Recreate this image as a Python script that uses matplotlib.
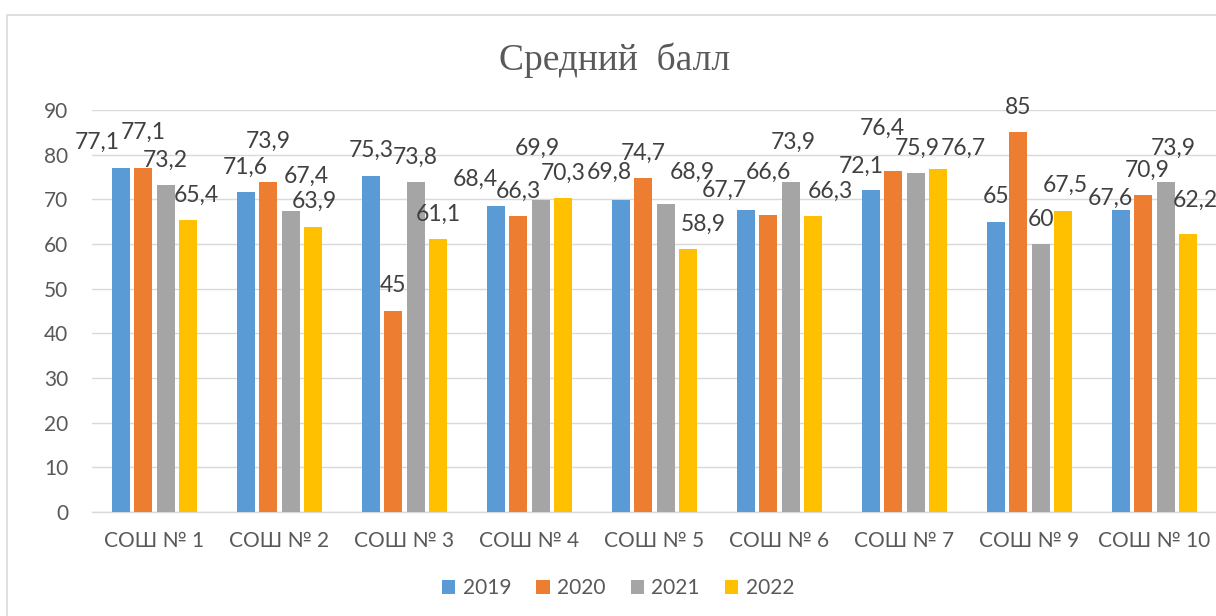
import matplotlib
matplotlib.use("Agg")
import matplotlib.pyplot as plt
import numpy as np
from matplotlib.patches import Rectangle

# ---- data ----
schools = ["СОШ № 1", "СОШ № 2", "СОШ № 3", "СОШ № 4", "СОШ № 5",
           "СОШ № 6", "СОШ № 7", "СОШ № 9", "СОШ № 10"]
years = ["2019", "2020", "2021", "2022"]
v2019 = [77.1, 71.6, 75.3, 68.4, 69.8, 67.7, 72.1, 65, 67.6]
v2020 = [77.1, 73.9, 45, 66.3, 74.7, 66.6, 76.4, 85, 70.9]
v2021 = [73.2, 67.4, 73.8, 69.9, 68.9, 73.9, 75.9, 60, 73.9]
v2022 = [65.4, 63.9, 61.1, 70.3, 58.9, 66.3, 76.7, 67.5, 62.2]
yticks = [0, 10, 20, 30, 40, 50, 60, 70, 80, 90]
title = "Средний  балл"

# label placement shifts (pixels: dx, extra dy) per series, per school
label_shift = [
    [(-24, 0), (0, 0), (0, 0), (-20, 2), (-11, 3), (-21, -6), (-9, -1), (0, 0), (-10, -13)],
    [(0, 10), (0, 16), (0, 0), (0, 0), (0, 0), (0, 17), (-11, 17), (0, 0), (4, 0)],
    [(0, 0), (16, 10), (0, 0), (-3, 26), (27, 7), (2, 15), (1, 0), (0, 0), (7, 9)],
    [(8, 0), (1, 0), (0, 0), (0, 0), (15, 0), (17, 0), (25, -4), (2, 0), (7, 9)],
]

colors = ["#5B9BD5", "#ED7D31", "#A5A5A5", "#FFC000"]
series = [v2019, v2020, v2021, v2022]

plt.rcParams['font.family'] = ['Lato', 'Open Sans', 'DejaVu Sans']

W, H = 1216, 616
fig = plt.figure(figsize=(W / 100, H / 100), dpi=100)
ax = fig.add_axes([92 / W, (H - 512) / H, (1217 - 92) / W, (512 - 110) / H])

# chart border
fig.patches.append(Rectangle((7 / W, -0.1), 1.2, 1 - 15 / H + 0.1,
                             transform=fig.transFigure, fill=False,
                             edgecolor="#D9D9D9", linewidth=1.2, zorder=0))

x = np.arange(len(schools))
step = 0.18
width = 0.145
px = 0.72  # points per pixel at dpi 100
for i, (vals, c, yr) in enumerate(zip(series, colors, years)):
    pos = x + (i - 1.5) * step
    ax.bar(pos, vals, width=width, color=c, label=yr, zorder=3)
    for j, (p, v) in enumerate(zip(pos, vals)):
        dx, dy = label_shift[i][j]
        txt = ("%g" % v).replace(".", ",")
        ax.annotate(txt, xy=(p, v), xytext=(dx * px, (25 + dy) * px),
                    textcoords="offset points", ha="center", va="center",
                    fontsize=16.5, color="#404040", zorder=5)

ax.set_xlim(-0.5, len(schools) - 0.5)
ax.set_ylim(0, 90)
ax.set_yticks(yticks)
ax.set_yticklabels([str(t) for t in yticks])
ax.set_xticks(x)
ax.set_xticklabels(schools)
ax.tick_params(axis="y", length=0, pad=17, labelsize=15, labelcolor="#595959")
ax.tick_params(axis="x", length=0, pad=14, labelsize=15, labelcolor="#595959")
ax.grid(axis="y", color="#D9D9D9", linewidth=1.0, zorder=0)
ax.set_axisbelow(True)
for s in ["top", "right", "left"]:
    ax.spines[s].set_visible(False)
ax.spines["bottom"].set_color("#D9D9D9")
ax.spines["bottom"].set_linewidth(1.0)

fig.text(615 / W, (H - 70) / H, title, ha="center", va="baseline",
         fontsize=27, color="#595959", family=["Liberation Serif", "DejaVu Serif"])

handles, labels = ax.get_legend_handles_labels()
fig.legend(handles, labels, loc="center", bbox_to_anchor=(618 / W, 1 - 588 / H),
           ncol=4, frameon=False, fontsize=15, handlelength=0.65, handleheight=0.65,
           handletextpad=0.35, columnspacing=1.2, labelcolor="#595959")

fig.savefig("out.png", dpi=100)
